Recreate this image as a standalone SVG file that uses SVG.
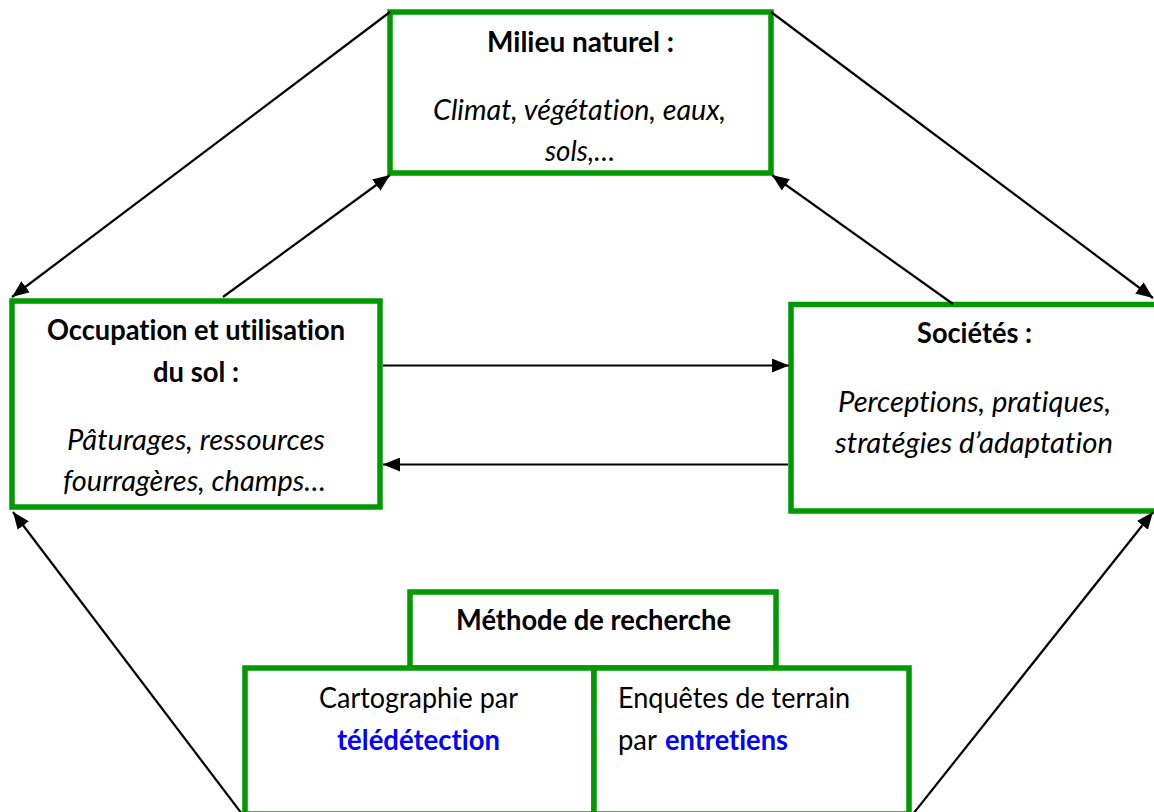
<svg xmlns="http://www.w3.org/2000/svg" width="1154" height="812" viewBox="0 0 1154 812">
<style>
.box{fill:#fff;stroke:#009a00;stroke-width:5.5}
.t{font-family:Lato,"Liberation Sans",sans-serif;font-size:28px;fill:#000;font-variant-ligatures:none;font-feature-settings:"liga" 0}
.b{font-weight:700}
.i{font-style:italic}
.blue{fill:#0000ff;font-weight:700}
.c{stroke:#000;stroke-width:2.2;fill:none;marker-end:url(#ah)}
</style>
<defs>
<marker id="ah" markerUnits="userSpaceOnUse" markerWidth="18" markerHeight="14" refX="17" refY="7" orient="auto">
<path d="M0,0 L17,7 L0,14 z" fill="#000"/>
</marker>
</defs>
<rect width="1154" height="812" fill="#fff"/>
<g id="milieu">
<rect class="box" x="390" y="12" width="381" height="161"/>
<text class="t b" x="487" y="52" textLength="187" lengthAdjust="spacingAndGlyphs">Milieu naturel :</text>
<text class="t i" x="433" y="120" textLength="293" lengthAdjust="spacingAndGlyphs">Climat, végétation, eaux,</text>
<text class="t i" x="545" y="161" textLength="70" lengthAdjust="spacingAndGlyphs">sols,…</text>
</g>
<g id="occupation">
<rect class="box" x="12" y="301" width="368" height="206"/>
<text class="t b" x="47" y="340" textLength="298" lengthAdjust="spacingAndGlyphs">Occupation et utilisation</text>
<text class="t b" x="153" y="382" textLength="86" lengthAdjust="spacingAndGlyphs">du sol :</text>
<text class="t i" x="67" y="450" textLength="258" lengthAdjust="spacingAndGlyphs">Pâturages, ressources</text>
<text class="t i" x="63" y="491" textLength="263" lengthAdjust="spacingAndGlyphs">fourragères, champs…</text>
</g>
<g id="societes">
<rect class="box" x="791" y="304.5" width="370" height="206.5"/>
<text class="t b" x="917" y="343" textLength="115" lengthAdjust="spacingAndGlyphs">Sociétés :</text>
<text class="t i" x="838" y="412" textLength="273" lengthAdjust="spacingAndGlyphs">Perceptions, pratiques,</text>
<text class="t i" x="835" y="453" textLength="278" lengthAdjust="spacingAndGlyphs">stratégies d’adaptation</text>
</g>
<g id="methode">
<rect class="box" x="410" y="592" width="366" height="76"/>
<text class="t b" x="456" y="630" textLength="275" lengthAdjust="spacingAndGlyphs">Méthode de recherche</text>
</g>
<g id="cartographie">
<rect class="box" x="245" y="668" width="349" height="146"/>
<text class="t" x="319" y="708" textLength="199" lengthAdjust="spacingAndGlyphs">Cartographie par</text>
<text class="t blue" x="337" y="750" textLength="163" lengthAdjust="spacingAndGlyphs">télédétection</text>
</g>
<g id="enquetes">
<rect class="box" x="594" y="668" width="315" height="146"/>
<text class="t" x="618" y="708" textLength="232" lengthAdjust="spacingAndGlyphs">Enquêtes de terrain</text>
<text class="t" x="618" y="750" textLength="39" lengthAdjust="spacingAndGlyphs">par</text>
<text class="t blue" x="665" y="750" textLength="123" lengthAdjust="spacingAndGlyphs">entretiens</text>
</g>
<g id="connectors">
<line class="c" x1="390" y1="12" x2="12" y2="297"/>
<line class="c" x1="771" y1="12" x2="1153" y2="298"/>
<line class="c" x1="223" y1="297" x2="390" y2="175"/>
<line class="c" x1="953" y1="304" x2="772" y2="175"/>
<line class="c" x1="383" y1="365.5" x2="789" y2="365.5"/>
<line class="c" x1="788" y1="464.5" x2="383" y2="464.5"/>
<line class="c" x1="242" y1="814" x2="13" y2="512"/>
<line class="c" x1="913" y1="814" x2="1153" y2="512"/>
</g>
</svg>
